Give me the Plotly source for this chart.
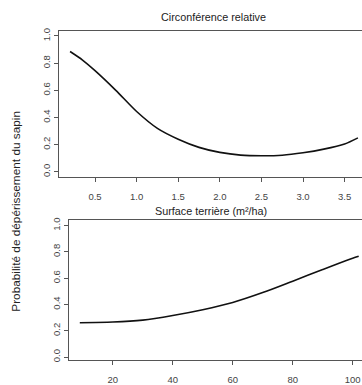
import plotly.graph_objects as go

W, H = 362, 385

# Top panel: relative circumference
circ_x = [0.2, 0.35, 0.5, 0.75, 1.0, 1.25, 1.5, 1.75, 2.0, 2.25, 2.5, 2.75, 3.0, 3.25, 3.5, 3.66]
circ_y = [0.886, 0.823, 0.745, 0.60, 0.444, 0.32, 0.24, 0.18, 0.143, 0.123, 0.118, 0.122, 0.14, 0.167, 0.205, 0.25]
circ_ticks = [0.5, 1.0, 1.5, 2.0, 2.5, 3.0, 3.5]

# Bottom panel: basal area
ba_x = [9, 20, 30, 40, 50, 60, 70, 80, 90, 100, 102]
ba_y = [0.261, 0.266, 0.281, 0.316, 0.36, 0.415, 0.49, 0.577, 0.665, 0.751, 0.766]
ba_ticks = [20, 40, 60, 80, 100]

prob_ticks = [0.0, 0.2, 0.4, 0.6, 0.8, 1.0]
prob_labels = ["0.0", "0.2", "0.4", "0.6", "0.8", "1.0"]

fig = go.Figure()
fig.add_trace(go.Scatter(x=circ_x, y=circ_y, mode="lines", line=dict(color="#111", width=1.6, shape="spline", smoothing=0.8),
                         xaxis="x", yaxis="y", showlegend=False, hoverinfo="skip"))
fig.add_trace(go.Scatter(x=ba_x, y=ba_y, mode="lines", line=dict(color="#111", width=1.6, shape="spline", smoothing=0.8),
                         xaxis="x2", yaxis="y2", showlegend=False, hoverinfo="skip"))

def py(p):
    return 1 - p / H

tickfont = dict(family="Liberation Sans, Arial, sans-serif", size=9.5, color="#444")
axcommon = dict(showgrid=False, zeroline=False, showline=True, linecolor="#555", linewidth=1,
                ticks="outside", ticklen=4, tickcolor="#555", tickwidth=1, tickfont=tickfont, fixedrange=True)

fig.update_layout(
    width=W, height=H, margin=dict(l=0, r=0, t=0, b=0),
    paper_bgcolor="white", plot_bgcolor="white",
    xaxis=dict(domain=[59 / W, 1], range=[0.067, 3.709], anchor="y", tickvals=circ_ticks,
               ticktext=[f"{v:.1f}" for v in circ_ticks], mirror=True, ticklabelstandoff=6, **axcommon),
    yaxis=dict(domain=[py(177), py(28)], range=[-0.04, 1.04], anchor="x", tickvals=prob_ticks,
               ticktext=prob_labels, tickangle=-90, **axcommon),
    xaxis2=dict(domain=[69 / W, 1], range=[5.4, 103.1], anchor="y2", tickvals=ba_ticks,
                ticktext=[str(v) for v in ba_ticks], mirror=True, ticklabelstandoff=6, **axcommon),
    yaxis2=dict(domain=[py(363), py(220.7)], range=[-0.025, 1.04], anchor="x2", tickvals=prob_ticks,
                ticktext=prob_labels, tickangle=-90, **axcommon),
    annotations=[
        dict(text="Circonférence relative", x=213 / W, y=py(14), xref="paper", yref="paper",
             showarrow=False, xanchor="center", yanchor="middle",
             font=dict(family="Liberation Sans, Arial, sans-serif", size=10.8, color="#222")),
        dict(text="Surface terrière (m²/ha)", x=210.5 / W, y=py(211.7), xref="paper", yref="paper",
             showarrow=False, xanchor="center", yanchor="middle",
             font=dict(family="Liberation Sans, Arial, sans-serif", size=10.8, color="#222")),
        dict(text="Probabilité de dépérissement du sapin", x=16 / W, y=py(212), xref="paper", yref="paper",
             showarrow=False, xanchor="center", yanchor="middle", textangle=-90,
             font=dict(family="Liberation Sans, Arial, sans-serif", size=11.8, color="#222")),
    ],
)

fig.write_html("out.html", config={"displayModeBar": False, "staticPlot": True},
               post_script="document.body.style.margin='0';document.body.style.overflow='hidden';")
